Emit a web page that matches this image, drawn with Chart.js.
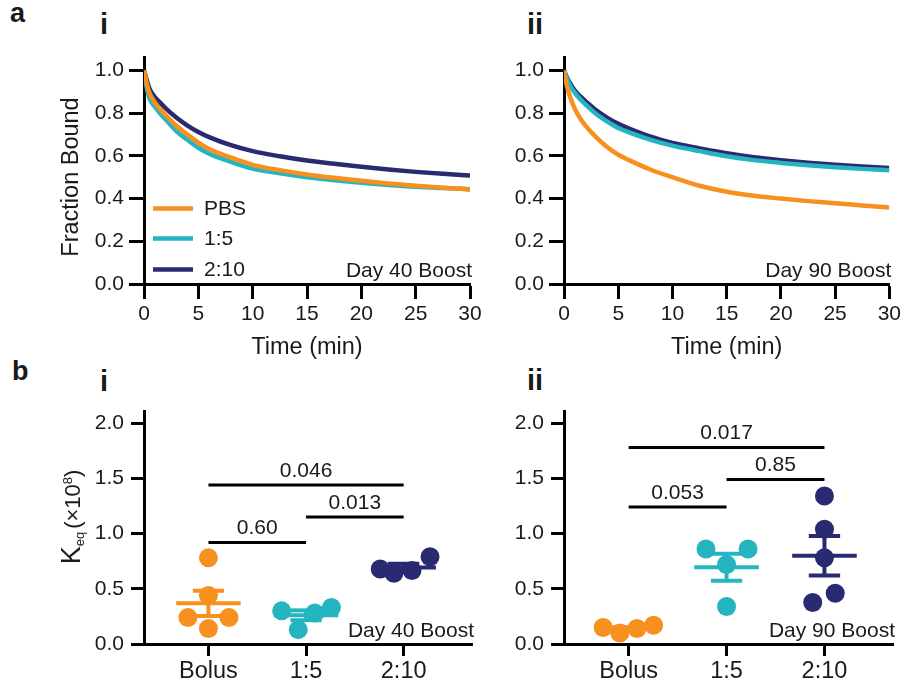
<!DOCTYPE html>
<html>
<head>
<title>Fraction bound and Keq</title>
<script src="https://cdn.jsdelivr.net/npm/chart.js"></script>
<style>
  body { margin: 0; background: #fff; width: 904px; height: 684px; position: relative; overflow: hidden;
         font-family: "Liberation Sans", Arial, sans-serif; color: #1a1a1a; }
  .box { position: absolute; }
  .tag { position: absolute; font-weight: bold; line-height: 1; }
</style>
</head>
<body>
<div class="tag" style="left:10px;top:0px;font-size:27px">a</div>
<div class="tag" style="left:12px;top:358px;font-size:27px">b</div>
<div class="tag" style="left:100px;top:10px;font-size:29px">i</div>
<div class="tag" style="left:527px;top:10px;font-size:29px">ii</div>
<div class="tag" style="left:100px;top:367px;font-size:29px">i</div>
<div class="tag" style="left:527px;top:366px;font-size:29px">ii</div>

<div class="box" style="left:55px;top:40px;width:435px;height:322px"><canvas id="ai"></canvas></div>
<div class="box" style="left:490px;top:40px;width:414px;height:322px"><canvas id="aii"></canvas></div>
<div class="box" style="left:55px;top:380px;width:435px;height:304px"><canvas id="bi"></canvas></div>
<div class="box" style="left:490px;top:380px;width:414px;height:304px"><canvas id="bii"></canvas></div>

<script>
// ---- data ----
const seriesNames = ['PBS', '1:5', '2:10'];
const timeMin = [0, 0.25, 0.5, 1, 1.5, 2, 3, 4, 5, 6, 8, 10, 12.5, 15, 17.5, 20, 22.5, 25, 27.5, 30];
const timeTicks = [0, 5, 10, 15, 20, 25, 30];
const fractionTicks = [0, 0.2, 0.4, 0.6, 0.8, 1.0];

// Day 40 boost dissociation curves
const pbsDay40  = [1.0, 0.94, 0.895, 0.85, 0.818, 0.79, 0.74, 0.70, 0.662, 0.632, 0.592, 0.558, 0.533, 0.513, 0.497, 0.483, 0.471, 0.46, 0.451, 0.443];
const r15Day40  = [1.0, 0.92, 0.87, 0.83, 0.798, 0.77, 0.715, 0.675, 0.638, 0.61, 0.572, 0.54, 0.518, 0.50, 0.486, 0.474, 0.464, 0.455, 0.449, 0.444];
const r210Day40 = [1.0, 0.955, 0.915, 0.875, 0.848, 0.822, 0.778, 0.742, 0.712, 0.688, 0.65, 0.622, 0.598, 0.578, 0.563, 0.549, 0.536, 0.525, 0.516, 0.508];
// Day 90 boost dissociation curves
const pbsDay90  = [1.0, 0.93, 0.885, 0.82, 0.775, 0.74, 0.685, 0.64, 0.605, 0.58, 0.535, 0.50, 0.46, 0.432, 0.413, 0.40, 0.388, 0.378, 0.368, 0.358];
const r15Day90  = [1.0, 0.965, 0.935, 0.895, 0.865, 0.84, 0.795, 0.76, 0.73, 0.71, 0.675, 0.648, 0.622, 0.598, 0.58, 0.567, 0.556, 0.547, 0.539, 0.533];
const r210Day90 = [1.0, 0.97, 0.945, 0.905, 0.878, 0.855, 0.812, 0.778, 0.75, 0.728, 0.69, 0.66, 0.635, 0.612, 0.594, 0.58, 0.568, 0.558, 0.55, 0.543];

// Keq (x10^8) per animal
const groupNames = ['Bolus', '1:5', '2:10'];
const keqTicks = [0, 0.5, 1.0, 1.5, 2.0];
const keqDay40Bolus = [0.78, 0.44, 0.24, 0.24, 0.14];
const keqDay40R15   = [0.30, 0.28, 0.33, 0.13];
const keqDay40R210  = [0.68, 0.64, 0.665, 0.79];
const keqDay90Bolus = [0.15, 0.10, 0.14, 0.17];
const keqDay90R15   = [0.86, 0.86, 0.72, 0.34];
const keqDay90R210  = [1.34, 1.04, 0.78, 0.46, 0.375];

// dot spread inside each column (in column widths)
const spreadDay40Bolus = [0, 0, -0.21, 0.21, 0];
const spreadDay40R15   = [-0.25, 0.09, 0.26, -0.08];
const spreadDay40R210  = [-0.24, -0.1, 0.085, 0.27];
const spreadDay90Bolus = [-0.26, -0.09, 0.085, 0.255];
const spreadDay90R15   = [-0.21, 0.22, 0, 0];
const spreadDay90R210  = [0, 0, 0, 0.11, -0.12];

// comparisons: p value, groups compared
const pDay40 = ['0.60', '0.013', '0.046'];
const pDay90 = ['0.053', '0.85', '0.017'];
const pPairs = [[0, 1], [1, 2], [0, 2]];
const bracketYDay40 = [0.92, 1.15, 1.44];
const bracketYDay90 = [1.24, 1.49, 1.78];

// ---- style ----
const FONT = '"Liberation Sans", Arial, sans-serif';
const INK = '#1a1a1a';
const COLORS = ['#F7901E', '#25B5C0', '#2A2A72'];

function axis(dir, ticks, min, max, fmt, size, thick, tickLen, pad, title) {
  return {
    type: 'linear', min: min, max: max,
    afterBuildTicks: s => { s.ticks = ticks.map(v => ({ value: v })); },
    afterFit: s => { if (dir === 'x') s.height = thick; else s.width = thick; },
    ticks: { callback: fmt, autoSkip: false, maxRotation: 0, padding: pad, color: INK,
             font: { family: FONT, size: size } },
    grid: { display: true, drawOnChartArea: false, drawTicks: true, tickLength: tickLen,
            tickWidth: 3, tickColor: '#000' },
    border: { display: true, color: '#000', width: 3 },
    title: title ? { display: true, text: title, color: INK, padding: 0, font: { family: FONT, size: 23.5 } }
                 : { display: false }
  };
}

function mean(a) { return a.reduce((s, v) => s + v, 0) / a.length; }
function sem(a) {
  const m = mean(a);
  return Math.sqrt(a.reduce((s, v) => s + (v - m) * (v - m), 0) / (a.length - 1)) / Math.sqrt(a.length);
}

function hline(ctx, x1, x2, y) { ctx.beginPath(); ctx.moveTo(x1, y); ctx.lineTo(x2, y); ctx.stroke(); }

// y titles, legend, tag text, mean/SEM bars and brackets
function makeExtras(cfg) {
  return {
    id: 'extras',
    afterDatasetsDraw(chart) {
      const ctx = chart.ctx;
      const { left, right, bottom, top } = chart.chartArea;
      const xs = chart.scales.x, ys = chart.scales.y;
      ctx.save();
      ctx.lineCap = 'butt';

      if (cfg.groups) {
        cfg.groups.forEach((vals, i) => {
          const m = mean(vals), e = sem(vals);
          ctx.strokeStyle = COLORS[i];
          ctx.lineWidth = 4;
          hline(ctx, xs.getPixelForValue(i - 0.33), xs.getPixelForValue(i + 0.33), ys.getPixelForValue(m));
          hline(ctx, xs.getPixelForValue(i - 0.16), xs.getPixelForValue(i + 0.16), ys.getPixelForValue(m + e));
          hline(ctx, xs.getPixelForValue(i - 0.16), xs.getPixelForValue(i + 0.16), ys.getPixelForValue(m - e));
          ctx.beginPath();
          ctx.moveTo(xs.getPixelForValue(i), ys.getPixelForValue(m + e));
          ctx.lineTo(xs.getPixelForValue(i), ys.getPixelForValue(m - e));
          ctx.stroke();
        });
      }

      if (cfg.pvals) {
        ctx.strokeStyle = '#000';
        ctx.lineWidth = 3;
        ctx.fillStyle = INK;
        ctx.font = '21px ' + FONT;
        ctx.textAlign = 'center';
        ctx.textBaseline = 'alphabetic';
        cfg.pvals.forEach((p, k) => {
          const [a, b] = pPairs[k];
          const xa = xs.getPixelForValue(a), xb = xs.getPixelForValue(b);
          const y = ys.getPixelForValue(cfg.bracketY[k]);
          hline(ctx, xa, xb, y);
          ctx.fillText(p, (xa + xb) / 2, y - 8);
        });
      }

      if (cfg.legend) {
        const rows = [top + 151, top + 181, top + 212];
        ctx.lineWidth = 4.5;
        ctx.font = '21px ' + FONT;
        ctx.textAlign = 'left';
        ctx.textBaseline = 'middle';
        ctx.fillStyle = INK;
        chart.data.datasets.forEach((ds, i) => {
          ctx.strokeStyle = ds.borderColor;
          hline(ctx, left + 9, left + 49, rows[i]);
          ctx.fillText(ds.label, left + 60, rows[i] + 1);
        });
      }

      ctx.fillStyle = INK;
      ctx.font = '21px ' + FONT;
      ctx.textAlign = 'right';
      ctx.textBaseline = 'alphabetic';
      ctx.fillText(cfg.tag, right + 2, bottom - 7);

      if (cfg.yTitle === 'fraction') {
        ctx.translate(left - 66, cfg.titleY);
        ctx.rotate(-Math.PI / 2);
        ctx.textAlign = 'center';
        ctx.font = '23.5px ' + FONT;
        ctx.fillText('Fraction Bound', 0, 0);
      } else if (cfg.yTitle === 'keq') {
        const parts = [
          { t: 'K', size: 27, dy: 0, gap: 0 },
          { t: 'eq', size: 13, dy: 4, gap: 0 },
          { t: '(\u00d710', size: 22, dy: 0, gap: 3 },
          { t: '8', size: 13, dy: -8, gap: 0 },
          { t: ')', size: 22, dy: 0, gap: 0 }
        ];
        let total = 0;
        parts.forEach(p => { ctx.font = p.size + 'px ' + FONT; p.w = ctx.measureText(p.t).width; total += p.w + p.gap; });
        ctx.translate(left - 64, cfg.titleY);
        ctx.rotate(-Math.PI / 2);
        ctx.textAlign = 'left';
        let x = -total / 2;
        parts.forEach(p => {
          x += p.gap;
          ctx.font = p.size + 'px ' + FONT;
          ctx.fillText(p.t, x, p.dy);
          x += p.w;
        });
      }
      ctx.restore();
    }
  };
}

function curveChart(id, series, tag, yWidth, padRight, withTitle) {
  new Chart(document.getElementById(id), {
    type: 'line',
    data: {
      datasets: series.map((vals, i) => ({
        label: seriesNames[i],
        data: timeMin.map((t, k) => ({ x: t, y: vals[k] })),
        borderColor: COLORS[i],
        borderWidth: 4.5,
        pointRadius: 0,
        cubicInterpolationMode: 'monotone',
        fill: false
      }))
    },
    options: {
      animation: false, responsive: true, maintainAspectRatio: false, events: [],
      layout: { padding: { top: 11, right: padRight, left: 0, bottom: 0 } },
      scales: {
        x: axis('x', timeTicks, 0, 30, v => String(v), 21, 78, 15, 3, 'Time (min)'),
        y: axis('y', fractionTicks, 0, 1.06, v => v.toFixed(1), 21, yWidth, 15, 5, null)
      },
      plugins: { legend: { display: false }, tooltip: { enabled: false } }
    },
    plugins: [makeExtras({ tag: tag, legend: withTitle, yTitle: withTitle ? 'fraction' : null, titleY: 177 - 40 })]
  });
}

function dotChart(id, groups, spreads, pvals, bracketY, tag, yWidth, padRight, withTitle) {
  new Chart(document.getElementById(id), {
    type: 'scatter',
    data: {
      datasets: groups.map((vals, i) => ({
        label: groupNames[i],
        data: vals.map((v, k) => ({ x: i + spreads[i][k], y: v })),
        pointRadius: 9.5,
        pointBackgroundColor: COLORS[i],
        pointBorderWidth: 0,
        clip: false
      }))
    },
    options: {
      animation: false, responsive: true, maintainAspectRatio: false, events: [],
      layout: { padding: { top: 31, right: padRight, left: 0, bottom: 0 } },
      scales: {
        x: axis('x', [0, 1, 2], -0.66, 2.7, v => groupNames[v], 23.5, 40, 12, 1, null),
        y: axis('y', keqTicks, 0, 2.11, v => v.toFixed(1), 21, yWidth, 13, 7, null)
      },
      plugins: { legend: { display: false }, tooltip: { enabled: false } }
    },
    plugins: [makeExtras({ tag: tag, groups: groups, pvals: pvals, bracketY: bracketY,
                           yTitle: withTitle ? 'keq' : null, titleY: 517 - 380 })]
  });
}

curveChart('ai', [pbsDay40, r15Day40, r210Day40], 'Day 40 Boost', 89, 20, true);
curveChart('aii', [pbsDay90, r15Day90, r210Day90], 'Day 90 Boost', 74, 13, false);
dotChart('bi', [keqDay40Bolus, keqDay40R15, keqDay40R210],
         [spreadDay40Bolus, spreadDay40R15, spreadDay40R210], pDay40, bracketYDay40, 'Day 40 Boost', 89, 18, true);
dotChart('bii', [keqDay90Bolus, keqDay90R15, keqDay90R210],
         [spreadDay90Bolus, spreadDay90R15, spreadDay90R210], pDay90, bracketYDay90, 'Day 90 Boost', 74, 11, false);
</script>
</body>
</html>
